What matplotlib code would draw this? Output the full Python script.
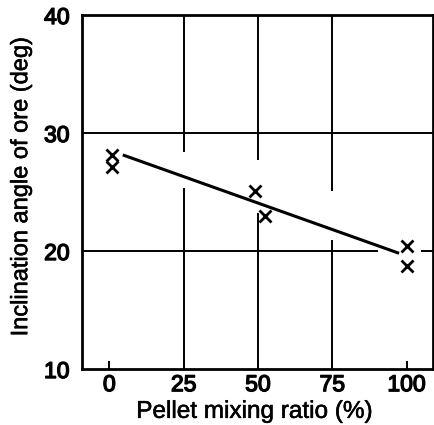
import matplotlib
matplotlib.use('Agg')
import matplotlib.pyplot as plt
import matplotlib.patheffects as pe

plt.rcParams['font.family'] = ['Liberation Sans', 'DejaVu Sans']

# measured points (pellet ratio %, inclination deg)
ratio = [1, 1, 49, 52.5, 100, 100]
angle = [28.1, 27.1, 25.1, 23.0, 20.4, 18.7]

# fitted trend line end points
fit_x = [5, 97]
fit_y = [28.1, 19.85]

xticks = [0, 25, 50, 75, 100]
yticks = [10, 20, 30, 40]

# grid lines, broken where they pass behind the data
vgrid = [(25, [(10, 25.3), (28.4, 40)]),
         (50, [(10, 23.2), (27.7, 40)]),
         (75, [(10, 20.9), (25.1, 40)])]
hgrid = [(20, [(-9.2, 90.3), (105, 108.9)]),
         (30, [(-9.2, 108.9)])]

fig = plt.figure(figsize=(4.35, 4.25), dpi=100)
ax = fig.add_axes([82/435, 1-369/425, 351/435, 354/425])

for x, segs in vgrid:
    for y0, y1 in segs:
        ax.plot([x, x], [y0, y1], color='black', lw=1.4, solid_capstyle='butt')
for y, segs in hgrid:
    for x0, x1 in segs:
        ax.plot([x0, x1], [y, y], color='black', lw=1.4, solid_capstyle='butt')

ax.plot(fit_x, fit_y, color='black', lw=2.2)
ax.plot(ratio, angle, ls='none', marker='x', color='black', ms=8, mew=2)

ax.set_xlim(-9.2, 108.9)
ax.set_ylim(10, 40)
ax.set_xticks(xticks)
ax.set_yticks(yticks)
ax.tick_params(axis='x', direction='in', length=6, width=1.4, pad=3, labelsize=16.5)
ax.tick_params(axis='y', length=0, pad=9, labelsize=16.5)
heavy = [pe.withStroke(linewidth=1.0, foreground='black')]
for lab in ax.get_xticklabels() + ax.get_yticklabels():
    lab.set_path_effects(heavy)
for s in ax.spines.values():
    s.set_linewidth(2)

light = [pe.withStroke(linewidth=0.4, foreground='black')]
ax.set_xlabel('Pellet mixing ratio (%)', fontsize=17.5, path_effects=light)
ax.set_ylabel('Inclination angle of ore (deg)', fontsize=17, path_effects=light)
ax.xaxis.set_label_coords(0.49, -0.09)
ax.yaxis.set_label_coords(-0.142, 0.517)

fig.savefig('out.png', dpi=100)
